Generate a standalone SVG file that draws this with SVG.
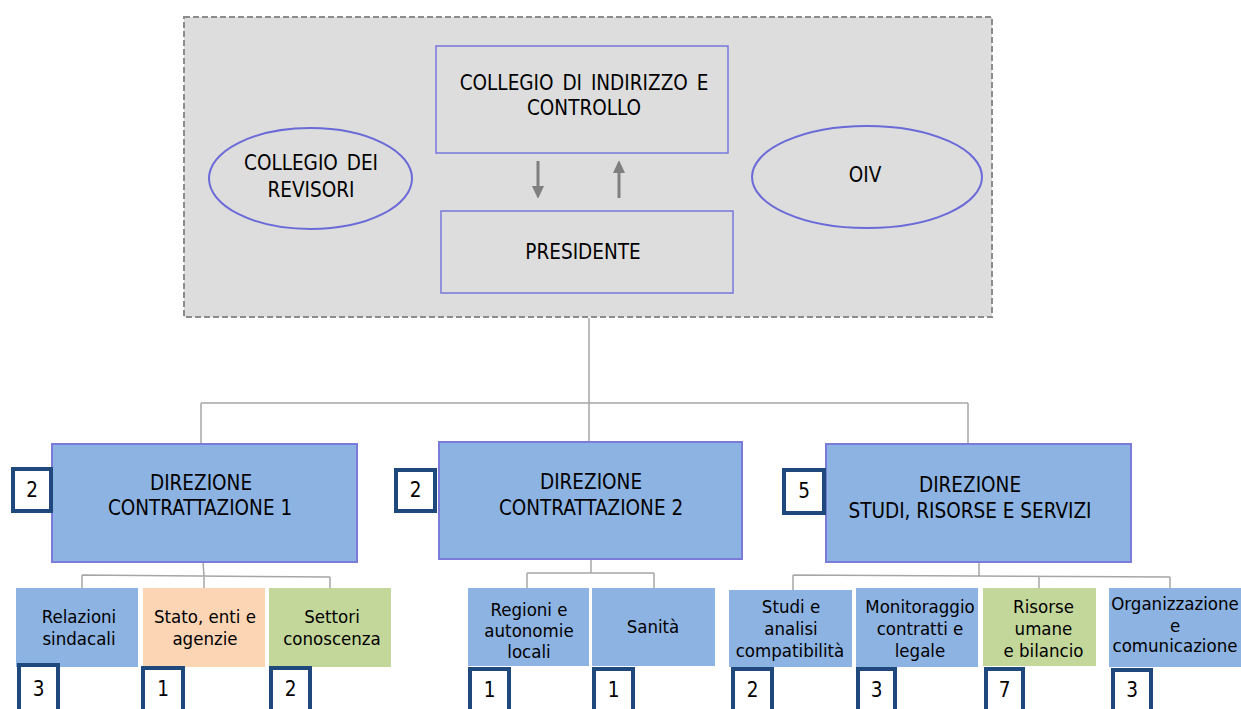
<svg xmlns="http://www.w3.org/2000/svg" width="1241" height="709" viewBox="0 0 1241 709">
  <defs>
    <marker id="ah" viewBox="0 0 12 13" refX="0" refY="6" markerWidth="12" markerHeight="13" markerUnits="userSpaceOnUse" orient="auto">
      <path d="M0,0 L13,6 L0,12 Z" fill="#7f7f7f"/>
    </marker>
  </defs>
  <style>
    text { font-family: "DejaVu Sans Condensed", "DejaVu Sans", "Liberation Sans", sans-serif; font-stretch: condensed; fill: #000; text-anchor: middle; }
    .big { font-size: 20.5px; }
    .sm { font-size: 18.5px; }
    .frame { fill: #dddddd; stroke: #8c8c8c; stroke-width: 2; stroke-dasharray: 6 3; }
    .top { fill: none; stroke: #7777dd; stroke-width: 1.5; }
    .ell { fill: none; stroke: #6a6ad8; stroke-width: 2; }
    .dir { fill: #8db3e2; stroke: #7b7bd9; stroke-width: 2; }
    .blue { fill: #8db3e2; }
    .orange { fill: #fcd5b5; }
    .green { fill: #c4d79b; }
    .badge { fill: #ffffff; stroke: #1f497d; stroke-width: 4; }
    .conn { fill: none; stroke: #a6a6a6; stroke-width: 1.5; }
    .arr { fill: none; stroke: #7f7f7f; stroke-width: 3; }
  </style>

  <rect class="frame" x="184" y="17" width="808" height="300"/>

  <g id="connectors">
    <path class="conn" d="M589,318 V403 M201,403 H968 M201,403 V444 M589,403 V441 M968,403 V444"/>
    <path class="conn" d="M203,562 L204,576 M82,575 L330,577 M82,575 V588 M204,576 V588 M330,577 V588"/>
    <path class="conn" d="M591,559 V573 M527,573 H654 M527,573 V588 M654,573 V588"/>
    <path class="conn" d="M979,562 V576 M793,575 L1170,577 M793,575 V590 M1039,576 V588 M1170,577 V588"/>
    <line class="arr" x1="538" y1="161" x2="538" y2="186" marker-end="url(#ah)"/>
    <line class="arr" x1="619" y1="198" x2="619" y2="173" marker-end="url(#ah)"/>
  </g>

  <g id="collegio-indirizzo">
    <rect class="top" x="436" y="46" width="292" height="107"/>
    <text class="big" x="584" y="90" word-spacing="3">COLLEGIO DI INDIRIZZO E</text>
    <text class="big" x="584" y="115">CONTROLLO</text>
  </g>

  <g id="presidente">
    <rect class="top" x="441" y="211" width="292" height="82"/>
    <text class="big" x="583" y="259">PRESIDENTE</text>
  </g>

  <g id="collegio-revisori">
    <ellipse class="ell" cx="310.5" cy="178.5" rx="101.5" ry="50.5"/>
    <text class="big" x="311" y="170" word-spacing="3">COLLEGIO DEI</text>
    <text class="big" x="311" y="197">REVISORI</text>
  </g>

  <g id="oiv">
    <ellipse class="ell" cx="867" cy="177" rx="115" ry="51"/>
    <text class="big" x="865" y="182">OIV</text>
  </g>

  <g id="direzione-1">
    <rect class="dir" x="52" y="444" width="305" height="118"/>
    <text class="big" x="201" y="490">DIREZIONE</text>
    <text class="big" x="200" y="515">CONTRATTAZIONE 1</text>
    <rect class="badge" x="13" y="469" width="38" height="42"/>
    <text class="big" x="32" y="497">2</text>
  </g>

  <g id="direzione-2">
    <rect class="dir" x="439" y="442" width="303" height="117"/>
    <text class="big" x="591" y="489">DIREZIONE</text>
    <text class="big" x="591" y="515">CONTRATTAZIONE 2</text>
    <rect class="badge" x="396" y="470" width="39" height="41"/>
    <text class="big" x="415.5" y="497">2</text>
  </g>

  <g id="direzione-3">
    <rect class="dir" x="826" y="444" width="305" height="118"/>
    <text class="big" x="970" y="492">DIREZIONE</text>
    <text class="big" x="970" y="518">STUDI, RISORSE E SERVIZI</text>
    <rect class="badge" x="784" y="470" width="40" height="43"/>
    <text class="big" x="804" y="498">5</text>
  </g>

  <g id="relazioni-sindacali">
    <rect class="blue" x="16" y="588" width="122" height="79"/>
    <text class="sm" x="79" y="623">Relazioni</text>
    <text class="sm" x="79" y="645">sindacali</text>
    <rect class="badge" x="19" y="665" width="39" height="60"/>
    <text class="big" x="38.5" y="696">3</text>
  </g>

  <g id="stato-enti-agenzie">
    <rect class="orange" x="143" y="588" width="122" height="79"/>
    <text class="sm" x="205" y="623">Stato, enti e</text>
    <text class="sm" x="205" y="645">agenzie</text>
    <rect class="badge" x="143" y="668" width="40" height="60"/>
    <text class="big" x="163" y="696">1</text>
  </g>

  <g id="settori-conoscenza">
    <rect class="green" x="269" y="588" width="122" height="79"/>
    <text class="sm" x="332" y="623">Settori</text>
    <text class="sm" x="332" y="645">conoscenza</text>
    <rect class="badge" x="271" y="668" width="39" height="60"/>
    <text class="big" x="290.5" y="696">2</text>
  </g>

  <g id="regioni-autonomie">
    <rect class="blue" x="468" y="588" width="121" height="78"/>
    <text class="sm" x="529" y="616">Regioni e</text>
    <text class="sm" x="529" y="637">autonomie</text>
    <text class="sm" x="529" y="658">locali</text>
    <rect class="badge" x="470" y="669" width="39" height="60"/>
    <text class="big" x="489.5" y="697">1</text>
  </g>

  <g id="sanita">
    <rect class="blue" x="592" y="588" width="123" height="78"/>
    <text class="sm" x="653" y="633">Sanità</text>
    <rect class="badge" x="594" y="669" width="39" height="60"/>
    <text class="big" x="613.5" y="697">1</text>
  </g>

  <g id="studi-analisi">
    <rect class="blue" x="729" y="590" width="123" height="77"/>
    <text class="sm" x="791" y="613">Studi e</text>
    <text class="sm" x="791" y="635">analisi</text>
    <text class="sm" x="790" y="657">compatibilità</text>
    <rect class="badge" x="733" y="669" width="39" height="60"/>
    <text class="big" x="752.5" y="697">2</text>
  </g>

  <g id="monitoraggio">
    <rect class="blue" x="856" y="588" width="122" height="79"/>
    <text class="sm" x="920" y="613">Monitoraggio</text>
    <text class="sm" x="920" y="635">contratti  e</text>
    <text class="sm" x="920" y="657">legale</text>
    <rect class="badge" x="858" y="669" width="37" height="60"/>
    <text class="big" x="876.5" y="697">3</text>
  </g>

  <g id="risorse-umane">
    <rect class="green" x="983" y="588" width="113" height="78"/>
    <text class="sm" x="1043.5" y="613">Risorse</text>
    <text class="sm" x="1043.5" y="635">umane</text>
    <text class="sm" x="1043.5" y="657">e bilancio</text>
    <rect class="badge" x="986" y="669" width="37" height="60"/>
    <text class="big" x="1004.5" y="697">7</text>
  </g>

  <g id="organizzazione">
    <rect class="blue" x="1109" y="588" width="132" height="79"/>
    <text class="sm" x="1175" y="610">Organizzazione</text>
    <text class="sm" x="1175" y="632">e</text>
    <text class="sm" x="1175" y="652">comunicazione</text>
    <rect class="badge" x="1113" y="670" width="38" height="60"/>
    <text class="big" x="1132" y="697">3</text>
  </g>
</svg>
